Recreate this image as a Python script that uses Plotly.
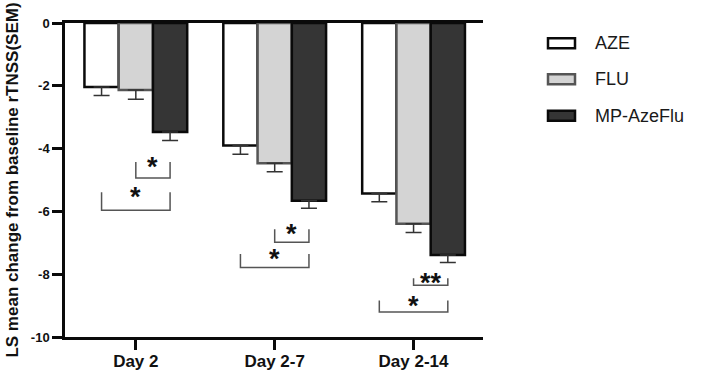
import plotly.graph_objects as go

# ---------------- data ----------------
categories = ["Day 2", "Day 2-7", "Day 2-14"]
series_names = ["AZE", "FLU", "MP-AzeFlu"]
aze_mean = [-2.04, -3.90, -5.43]
aze_sem = [0.27, 0.28, 0.26]
flu_mean = [-2.13, -4.47, -6.39]
flu_sem = [0.30, 0.27, 0.28]
mp_mean = [-3.47, -5.66, -7.39]
mp_sem = [0.27, 0.24, 0.24]
y_ticks = [0, -2, -4, -6, -8, -10]

# significance brackets: (category idx, from series, to series, line y, leg-top y, label)
brackets = [
    (0, 1, 2, -4.94, -4.43, "*"),
    (0, 0, 2, -5.96, -5.39, "*"),
    (1, 1, 2, -6.98, -6.57, "*"),
    (1, 0, 2, -7.79, -7.36, "*"),
    (2, 1, 2, -8.35, -8.13, "**"),
    (2, 0, 2, -9.20, -8.84, "*"),
]

# ---------------- style ----------------
FONT = "Liberation Sans, Arial, sans-serif"
W, H = 708, 374
ML, MT = 65, 23
MR = W - 483
MB = H - 337
BARGAP = 0.26
fills = ["#ffffff", "#d4d4d4", "#353535"]
edges = ["#0a0a0a", "#555555", "#0a0a0a"]

means = [aze_mean, flu_mean, mp_mean]
sems = [aze_sem, flu_sem, mp_sem]

fig = go.Figure()
for i, name in enumerate(series_names):
    fig.add_trace(go.Bar(
        x=categories, y=means[i], name=name,
        marker=dict(color=fills[i], line=dict(color=edges[i], width=2.5)),
        error_y=dict(type="data", symmetric=False, array=[0] * len(categories),
                     arrayminus=sems[i], color="#333333", thickness=1.5, width=8),
        showlegend=False,
    ))

# bracket shapes
bar_w = (1 - BARGAP) / len(series_names)
offsets = [(k - (len(series_names) - 1) / 2) * bar_w for k in range(len(series_names))]
for cat, a, b, y_line, y_top, label in brackets:
    x0 = cat + offsets[a]
    x1 = cat + offsets[b]
    fig.add_shape(type="path",
                  path=f"M {x0},{y_top} L {x0},{y_line} L {x1},{y_line} L {x1},{y_top}",
                  xref="x", yref="y", line=dict(color="#555555", width=1.5))
    fig.add_annotation(x=(x0 + x1) / 2, y=y_top, text=label, showarrow=False,
                       xref="x", yref="y", yanchor="middle", yshift=-5,
                       font=dict(family=FONT, size=27, weight="bold", color="#111111"))

# manual legend (paper coordinates from pixel layout)
pw, ph = W - ML - MR, H - MT - MB
def px_x(px):
    return (px - ML) / pw
def px_y(py):
    return (H - MB - py) / ph

legend_rows = [43.3, 79.2, 115.8]
for i, name in enumerate(series_names):
    yc = legend_rows[i]
    fig.add_shape(type="rect", xref="paper", yref="paper",
                  x0=px_x(548), x1=px_x(575), y0=px_y(yc - 5), y1=px_y(yc + 5),
                  fillcolor=fills[i], line=dict(color=edges[i], width=2.5))
    fig.add_annotation(xref="paper", yref="paper", x=px_x(593), y=px_y(yc),
                       xanchor="left", yanchor="middle", showarrow=False, text=name,
                       font=dict(family=FONT, size=18, color="#1a1a1a"))

fig.update_layout(
    width=W, height=H,
    margin=dict(l=ML, r=MR, t=MT, b=MB, autoexpand=False),
    paper_bgcolor="white", plot_bgcolor="white",
    barmode="group", bargap=BARGAP, bargroupgap=0,
    font=dict(family=FONT, color="#111111"),
    showlegend=False,
)
fig.update_xaxes(
    range=[-0.51, 2.5], showline=True, linecolor="#0a0a0a", linewidth=2.5,
    mirror=True, ticks="outside", ticklen=10, tickwidth=2.5, tickcolor="#0a0a0a",
    showgrid=False, zeroline=False, automargin=False, ticklabelstandoff=-3,
    tickfont=dict(family=FONT, size=17, weight="bold", color="#111111"),
)
fig.update_yaxes(
    range=[-10, 0], tickvals=y_ticks, ticktext=[str(v) for v in y_ticks],
    showline=True, linecolor="#0a0a0a", linewidth=2.5,
    ticks="outside", ticklen=10, tickwidth=2.5, tickcolor="#0a0a0a",
    showgrid=False, zeroline=False, automargin=False,
    tickfont=dict(family=FONT, size=13, weight="bold", color="#111111"),
    title=dict(text="LS mean change from baseline rTNSS(SEM)", standoff=8,
               font=dict(family=FONT, size=17, weight="bold", color="#111111")),
)

fig.write_html("out.html", config={"displayModeBar": False},
               post_script="document.body.style.margin='0';document.body.style.overflow='hidden';")
